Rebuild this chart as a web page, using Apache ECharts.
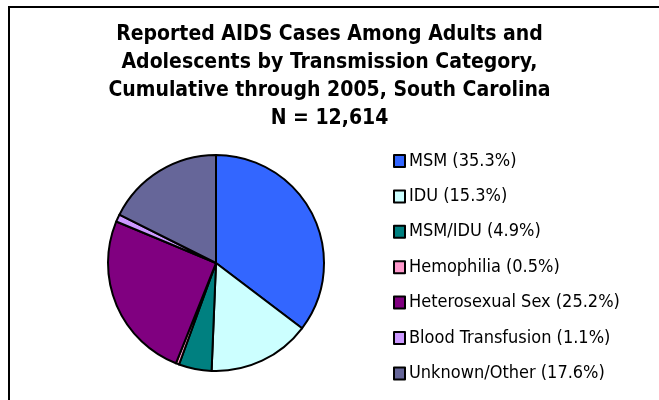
<!DOCTYPE html>
<html>
<head>
<meta charset="utf-8">
<script src="https://cdn.jsdelivr.net/npm/echarts@6/dist/echarts.min.js"></script>
<style>
  html, body { margin: 0; padding: 0; background: #fff; }
  #chart { width: 659px; height: 400px; }
</style>
</head>
<body>
<div id="chart"></div>
<script>
// transmission categories and their share of cases (%)
var categories = ['MSM', 'IDU', 'MSM/IDU', 'Hemophilia', 'Heterosexual Sex', 'Blood Transfusion', 'Unknown/Other']
var percents = [35.3, 15.3, 4.9, 0.5, 25.2, 1.1, 17.6]
var colors = ['#3366ff', '#ccffff', '#008080', '#ff99cc', '#800080', '#cc99ff', '#666699']

var chart = echarts.init(document.getElementById('chart'))

var pieData = categories.map(function (name, i) {
  return { name: name, value: percents[i], itemStyle: { color: colors[i] } }
})

chart.setOption({
  animation: false,
  title: {
    text: 'Reported AIDS Cases Among Adults and\nAdolescents by Transmission Category,\nCumulative through 2005, South Carolina\nN = 12,614',
    left: 'center',
    top: 16,
    textStyle: {
      fontFamily: 'DejaVu Sans Condensed',
      fontWeight: 'bold',
      fontSize: 21,
      lineHeight: 28,
      color: '#000'
    }
  },
  graphic: [{
    type: 'rect',
    shape: { x: 9, y: 7, width: 700, height: 450 },
    style: { fill: 'none', stroke: '#000', lineWidth: 2 }
  }],
  legend: {
    orient: 'vertical',
    left: 393,
    top: 152,
    padding: 0,
    icon: 'rect',
    itemWidth: 11,
    itemHeight: 12,
    itemGap: 17.4,
    itemStyle: { borderColor: '#000', borderWidth: 2 },
    selectedMode: false,
    formatter: function (name) {
      var i = categories.indexOf(name)
      return name + ' (' + percents[i].toFixed(1) + '%)'
    },
    textStyle: {
      fontFamily: 'DejaVu Sans Condensed',
      fontSize: 18,
      color: '#000',
      padding: [0, 0, 0, -1]
    }
  },
  series: [{
    type: 'pie',
    center: [216, 263],
    radius: 108,
    startAngle: 90,
    clockwise: true,
    label: { show: false },
    labelLine: { show: false },
    emphasis: { disabled: true },
    itemStyle: { borderColor: '#000', borderWidth: 2 },
    data: pieData
  }]
})
</script>
</body>
</html>
